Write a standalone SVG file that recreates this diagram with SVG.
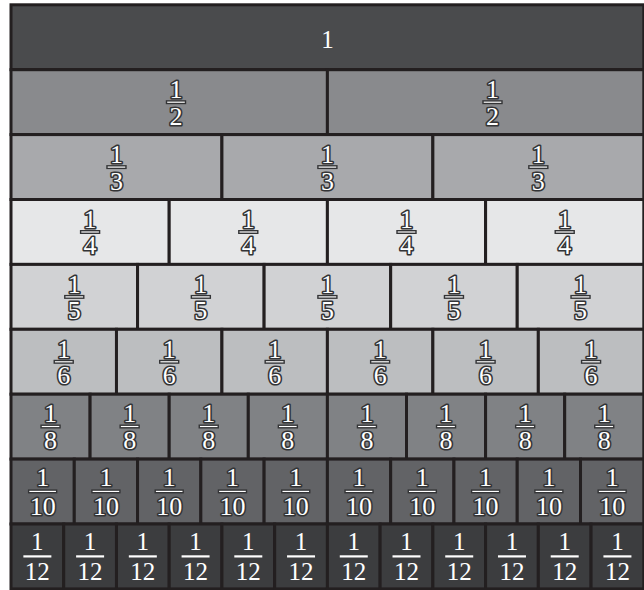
<svg xmlns="http://www.w3.org/2000/svg" width="644" height="590" viewBox="0 0 644 590">
<style>
.c{stroke:#231f20;stroke-width:3}
.r1{fill:#4a4b4d}.r2{fill:#898a8d}.r3{fill:#a8a9ac}.r4{fill:#e6e7e8}.r5{fill:#d1d2d4}.r6{fill:#bcbec0}.r8{fill:#808285}.r10{fill:#626366}.r12{fill:#3c3d3f}
.t{font-family:"Liberation Serif","DejaVu Serif",serif;font-size:26px;fill:#fff;stroke:#333436;stroke-width:3.2;stroke-linejoin:round;paint-order:stroke;text-anchor:middle}
.p{font-family:"Liberation Serif","DejaVu Serif",serif;font-size:25px;fill:#fff;text-anchor:middle}
.b{fill:#fff;stroke:#333436;stroke-width:1.4}
.bp{fill:#fff}
</style>
<rect x="0" y="0" width="644" height="590" fill="#ffffff"/>
<g id="whole"><rect class="c r1" x="11" y="4.8" width="632.8" height="64.9"/><text class="p" x="327.4" y="48" font-size="26">1</text></g>
<g id="half-1"><rect class="c r2" x="11" y="69.7" width="316.4" height="64.9"/><text class="t" x="176" y="97.9">1</text><rect class="b" x="166.5" y="100.9" width="19" height="2.6"/><text class="t" x="176" y="124.6">2</text></g>
<g id="half-2"><rect class="c r2" x="327.4" y="69.7" width="316.4" height="64.9"/><text class="t" x="492.5" y="97.9">1</text><rect class="b" x="483" y="100.9" width="19" height="2.6"/><text class="t" x="492.5" y="124.6">2</text></g>
<g id="third-1"><rect class="c r3" x="11" y="134.6" width="210.93" height="64.9"/><text class="t" x="116.47" y="162.8">1</text><rect class="b" x="106.97" y="165.8" width="19" height="2.6"/><text class="t" x="116.47" y="189.5">3</text></g>
<g id="third-2"><rect class="c r3" x="221.93" y="134.6" width="210.94" height="64.9"/><text class="t" x="327.4" y="162.8">1</text><rect class="b" x="317.9" y="165.8" width="19" height="2.6"/><text class="t" x="327.4" y="189.5">3</text></g>
<g id="third-3"><rect class="c r3" x="432.87" y="134.6" width="210.93" height="64.9"/><text class="t" x="538.33" y="162.8">1</text><rect class="b" x="528.83" y="165.8" width="19" height="2.6"/><text class="t" x="538.33" y="189.5">3</text></g>
<g id="quarter-1"><rect class="c r4" x="11" y="199.5" width="158.2" height="64.9"/><text class="t" x="90.1" y="227.7">1</text><rect class="b" x="80.6" y="230.7" width="19" height="2.6"/><text class="t" x="90.1" y="254.4">4</text></g>
<g id="quarter-2"><rect class="c r4" x="169.2" y="199.5" width="158.2" height="64.9"/><text class="t" x="248.3" y="227.7">1</text><rect class="b" x="238.8" y="230.7" width="19" height="2.6"/><text class="t" x="248.3" y="254.4">4</text></g>
<g id="quarter-3"><rect class="c r4" x="327.4" y="199.5" width="158.2" height="64.9"/><text class="t" x="406.5" y="227.7">1</text><rect class="b" x="397" y="230.7" width="19" height="2.6"/><text class="t" x="406.5" y="254.4">4</text></g>
<g id="quarter-4"><rect class="c r4" x="485.6" y="199.5" width="158.2" height="64.9"/><text class="t" x="564.7" y="227.7">1</text><rect class="b" x="555.2" y="230.7" width="19" height="2.6"/><text class="t" x="564.7" y="254.4">4</text></g>
<g id="fifth-1"><rect class="c r5" x="11" y="264.4" width="126.56" height="64.9"/><text class="t" x="74.28" y="292.6">1</text><rect class="b" x="64.78" y="295.6" width="19" height="2.6"/><text class="t" x="74.28" y="319.3">5</text></g>
<g id="fifth-2"><rect class="c r5" x="137.56" y="264.4" width="126.56" height="64.9"/><text class="t" x="200.84" y="292.6">1</text><rect class="b" x="191.34" y="295.6" width="19" height="2.6"/><text class="t" x="200.84" y="319.3">5</text></g>
<g id="fifth-3"><rect class="c r5" x="264.12" y="264.4" width="126.56" height="64.9"/><text class="t" x="327.4" y="292.6">1</text><rect class="b" x="317.9" y="295.6" width="19" height="2.6"/><text class="t" x="327.4" y="319.3">5</text></g>
<g id="fifth-4"><rect class="c r5" x="390.68" y="264.4" width="126.56" height="64.9"/><text class="t" x="453.96" y="292.6">1</text><rect class="b" x="444.46" y="295.6" width="19" height="2.6"/><text class="t" x="453.96" y="319.3">5</text></g>
<g id="fifth-5"><rect class="c r5" x="517.24" y="264.4" width="126.56" height="64.9"/><text class="t" x="580.52" y="292.6">1</text><rect class="b" x="571.02" y="295.6" width="19" height="2.6"/><text class="t" x="580.52" y="319.3">5</text></g>
<g id="sixth-1"><rect class="c r6" x="11" y="329.3" width="105.47" height="64.9"/><text class="t" x="63.73" y="357.5">1</text><rect class="b" x="54.23" y="360.5" width="19" height="2.6"/><text class="t" x="63.73" y="384.2">6</text></g>
<g id="sixth-2"><rect class="c r6" x="116.47" y="329.3" width="105.46" height="64.9"/><text class="t" x="169.2" y="357.5">1</text><rect class="b" x="159.7" y="360.5" width="19" height="2.6"/><text class="t" x="169.2" y="384.2">6</text></g>
<g id="sixth-3"><rect class="c r6" x="221.93" y="329.3" width="105.47" height="64.9"/><text class="t" x="274.67" y="357.5">1</text><rect class="b" x="265.17" y="360.5" width="19" height="2.6"/><text class="t" x="274.67" y="384.2">6</text></g>
<g id="sixth-4"><rect class="c r6" x="327.4" y="329.3" width="105.47" height="64.9"/><text class="t" x="380.13" y="357.5">1</text><rect class="b" x="370.63" y="360.5" width="19" height="2.6"/><text class="t" x="380.13" y="384.2">6</text></g>
<g id="sixth-5"><rect class="c r6" x="432.87" y="329.3" width="105.46" height="64.9"/><text class="t" x="485.6" y="357.5">1</text><rect class="b" x="476.1" y="360.5" width="19" height="2.6"/><text class="t" x="485.6" y="384.2">6</text></g>
<g id="sixth-6"><rect class="c r6" x="538.33" y="329.3" width="105.47" height="64.9"/><text class="t" x="591.07" y="357.5">1</text><rect class="b" x="581.57" y="360.5" width="19" height="2.6"/><text class="t" x="591.07" y="384.2">6</text></g>
<g id="eighth-1"><rect class="c r8" x="11" y="394.2" width="79.1" height="64.9"/><text class="t" x="50.55" y="421.9">1</text><rect class="b" x="41.05" y="425.2" width="19" height="2.6"/><text class="t" x="50.55" y="449.1">8</text></g>
<g id="eighth-2"><rect class="c r8" x="90.1" y="394.2" width="79.1" height="64.9"/><text class="t" x="129.65" y="421.9">1</text><rect class="b" x="120.15" y="425.2" width="19" height="2.6"/><text class="t" x="129.65" y="449.1">8</text></g>
<g id="eighth-3"><rect class="c r8" x="169.2" y="394.2" width="79.1" height="64.9"/><text class="t" x="208.75" y="421.9">1</text><rect class="b" x="199.25" y="425.2" width="19" height="2.6"/><text class="t" x="208.75" y="449.1">8</text></g>
<g id="eighth-4"><rect class="c r8" x="248.3" y="394.2" width="79.1" height="64.9"/><text class="t" x="287.85" y="421.9">1</text><rect class="b" x="278.35" y="425.2" width="19" height="2.6"/><text class="t" x="287.85" y="449.1">8</text></g>
<g id="eighth-5"><rect class="c r8" x="327.4" y="394.2" width="79.1" height="64.9"/><text class="t" x="366.95" y="421.9">1</text><rect class="b" x="357.45" y="425.2" width="19" height="2.6"/><text class="t" x="366.95" y="449.1">8</text></g>
<g id="eighth-6"><rect class="c r8" x="406.5" y="394.2" width="79.1" height="64.9"/><text class="t" x="446.05" y="421.9">1</text><rect class="b" x="436.55" y="425.2" width="19" height="2.6"/><text class="t" x="446.05" y="449.1">8</text></g>
<g id="eighth-7"><rect class="c r8" x="485.6" y="394.2" width="79.1" height="64.9"/><text class="t" x="525.15" y="421.9">1</text><rect class="b" x="515.65" y="425.2" width="19" height="2.6"/><text class="t" x="525.15" y="449.1">8</text></g>
<g id="eighth-8"><rect class="c r8" x="564.7" y="394.2" width="79.1" height="64.9"/><text class="t" x="604.25" y="421.9">1</text><rect class="b" x="594.75" y="425.2" width="19" height="2.6"/><text class="t" x="604.25" y="449.1">8</text></g>
<g id="tenth-1"><rect class="c r10" x="11" y="459.1" width="63.28" height="64.9"/><text class="t" x="42.64" y="485.8">1</text><rect class="b" x="28.64" y="490.1" width="28" height="2.6"/><text class="t" x="42.64" y="514.8">10</text></g>
<g id="tenth-2"><rect class="c r10" x="74.28" y="459.1" width="63.28" height="64.9"/><text class="t" x="105.92" y="485.8">1</text><rect class="b" x="91.92" y="490.1" width="28" height="2.6"/><text class="t" x="105.92" y="514.8">10</text></g>
<g id="tenth-3"><rect class="c r10" x="137.56" y="459.1" width="63.28" height="64.9"/><text class="t" x="169.2" y="485.8">1</text><rect class="b" x="155.2" y="490.1" width="28" height="2.6"/><text class="t" x="169.2" y="514.8">10</text></g>
<g id="tenth-4"><rect class="c r10" x="200.84" y="459.1" width="63.28" height="64.9"/><text class="t" x="232.48" y="485.8">1</text><rect class="b" x="218.48" y="490.1" width="28" height="2.6"/><text class="t" x="232.48" y="514.8">10</text></g>
<g id="tenth-5"><rect class="c r10" x="264.12" y="459.1" width="63.28" height="64.9"/><text class="t" x="295.76" y="485.8">1</text><rect class="b" x="281.76" y="490.1" width="28" height="2.6"/><text class="t" x="295.76" y="514.8">10</text></g>
<g id="tenth-6"><rect class="c r10" x="327.4" y="459.1" width="63.28" height="64.9"/><text class="t" x="359.04" y="485.8">1</text><rect class="b" x="345.04" y="490.1" width="28" height="2.6"/><text class="t" x="359.04" y="514.8">10</text></g>
<g id="tenth-7"><rect class="c r10" x="390.68" y="459.1" width="63.28" height="64.9"/><text class="t" x="422.32" y="485.8">1</text><rect class="b" x="408.32" y="490.1" width="28" height="2.6"/><text class="t" x="422.32" y="514.8">10</text></g>
<g id="tenth-8"><rect class="c r10" x="453.96" y="459.1" width="63.28" height="64.9"/><text class="t" x="485.6" y="485.8">1</text><rect class="b" x="471.6" y="490.1" width="28" height="2.6"/><text class="t" x="485.6" y="514.8">10</text></g>
<g id="tenth-9"><rect class="c r10" x="517.24" y="459.1" width="63.28" height="64.9"/><text class="t" x="548.88" y="485.8">1</text><rect class="b" x="534.88" y="490.1" width="28" height="2.6"/><text class="t" x="548.88" y="514.8">10</text></g>
<g id="tenth-10"><rect class="c r10" x="580.52" y="459.1" width="63.28" height="64.9"/><text class="t" x="612.16" y="485.8">1</text><rect class="b" x="598.16" y="490.1" width="28" height="2.6"/><text class="t" x="612.16" y="514.8">10</text></g>
<g id="twelfth-1"><rect class="c r12" x="11" y="524" width="52.73" height="64.9"/><text class="p" x="37.37" y="549.5">1</text><rect class="bp" x="23.37" y="555.3" width="28" height="2.2"/><text class="p" x="37.37" y="579.8">12</text></g>
<g id="twelfth-2"><rect class="c r12" x="63.73" y="524" width="52.74" height="64.9"/><text class="p" x="90.1" y="549.5">1</text><rect class="bp" x="76.1" y="555.3" width="28" height="2.2"/><text class="p" x="90.1" y="579.8">12</text></g>
<g id="twelfth-3"><rect class="c r12" x="116.47" y="524" width="52.73" height="64.9"/><text class="p" x="142.83" y="549.5">1</text><rect class="bp" x="128.83" y="555.3" width="28" height="2.2"/><text class="p" x="142.83" y="579.8">12</text></g>
<g id="twelfth-4"><rect class="c r12" x="169.2" y="524" width="52.73" height="64.9"/><text class="p" x="195.57" y="549.5">1</text><rect class="bp" x="181.57" y="555.3" width="28" height="2.2"/><text class="p" x="195.57" y="579.8">12</text></g>
<g id="twelfth-5"><rect class="c r12" x="221.93" y="524" width="52.74" height="64.9"/><text class="p" x="248.3" y="549.5">1</text><rect class="bp" x="234.3" y="555.3" width="28" height="2.2"/><text class="p" x="248.3" y="579.8">12</text></g>
<g id="twelfth-6"><rect class="c r12" x="274.67" y="524" width="52.73" height="64.9"/><text class="p" x="301.03" y="549.5">1</text><rect class="bp" x="287.03" y="555.3" width="28" height="2.2"/><text class="p" x="301.03" y="579.8">12</text></g>
<g id="twelfth-7"><rect class="c r12" x="327.4" y="524" width="52.73" height="64.9"/><text class="p" x="353.77" y="549.5">1</text><rect class="bp" x="339.77" y="555.3" width="28" height="2.2"/><text class="p" x="353.77" y="579.8">12</text></g>
<g id="twelfth-8"><rect class="c r12" x="380.13" y="524" width="52.74" height="64.9"/><text class="p" x="406.5" y="549.5">1</text><rect class="bp" x="392.5" y="555.3" width="28" height="2.2"/><text class="p" x="406.5" y="579.8">12</text></g>
<g id="twelfth-9"><rect class="c r12" x="432.87" y="524" width="52.73" height="64.9"/><text class="p" x="459.23" y="549.5">1</text><rect class="bp" x="445.23" y="555.3" width="28" height="2.2"/><text class="p" x="459.23" y="579.8">12</text></g>
<g id="twelfth-10"><rect class="c r12" x="485.6" y="524" width="52.73" height="64.9"/><text class="p" x="511.97" y="549.5">1</text><rect class="bp" x="497.97" y="555.3" width="28" height="2.2"/><text class="p" x="511.97" y="579.8">12</text></g>
<g id="twelfth-11"><rect class="c r12" x="538.33" y="524" width="52.74" height="64.9"/><text class="p" x="564.7" y="549.5">1</text><rect class="bp" x="550.7" y="555.3" width="28" height="2.2"/><text class="p" x="564.7" y="579.8">12</text></g>
<g id="twelfth-12"><rect class="c r12" x="591.07" y="524" width="52.73" height="64.9"/><text class="p" x="617.43" y="549.5">1</text><rect class="bp" x="603.43" y="555.3" width="28" height="2.2"/><text class="p" x="617.43" y="579.8">12</text></g>
<g id="connectors"></g>
</svg>
